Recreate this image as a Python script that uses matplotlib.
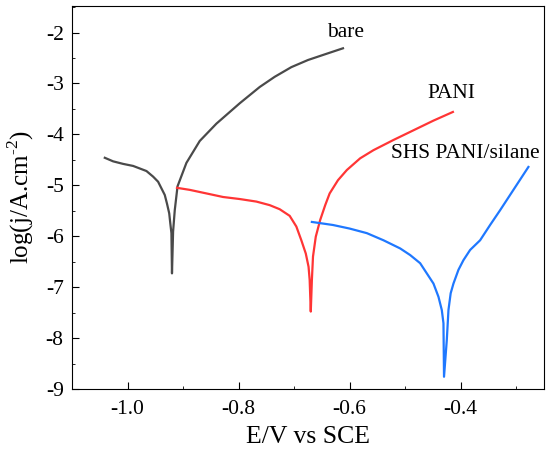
import matplotlib
matplotlib.use('Agg')
import matplotlib.pyplot as plt
from matplotlib.ticker import MultipleLocator

# polarization curves (E in V vs SCE, log j)
bare_E = [-1.041, -1.026, -1.008, -0.990, -0.978, -0.966, -0.954, -0.945, -0.939,
          -0.933, -0.929, -0.925, -0.923, -0.921, -0.920,
          -0.918, -0.915, -0.910, -0.894, -0.870, -0.840, -0.798, -0.762,
          -0.735, -0.705, -0.675, -0.645, -0.612]
bare_logj = [-4.46, -4.53, -4.58, -4.62, -4.67, -4.72, -4.83, -4.93, -5.06,
             -5.19, -5.36, -5.55, -5.75, -5.94, -6.73,
             -5.91, -5.49, -5.02, -4.56, -4.13, -3.79, -3.39, -3.07,
             -2.87, -2.68, -2.54, -2.43, -2.31]

pani_E = [-0.911, -0.888, -0.858, -0.828, -0.798, -0.768, -0.744, -0.726, -0.708,
          -0.696, -0.687, -0.679, -0.674, -0.672, -0.670,
          -0.668, -0.666, -0.661, -0.653, -0.644, -0.636, -0.621, -0.605,
          -0.581, -0.557, -0.521, -0.485, -0.449, -0.414]
pani_logj = [-5.05, -5.09, -5.16, -5.23, -5.27, -5.32, -5.39, -5.47, -5.60,
             -5.81, -6.08, -6.34, -6.60, -6.86, -7.48,
             -6.86, -6.40, -6.01, -5.68, -5.39, -5.16, -4.90, -4.70,
             -4.47, -4.31, -4.11, -3.92, -3.73, -3.56]

shs_E = [-0.668, -0.630, -0.600, -0.569, -0.539, -0.509, -0.491, -0.473, -0.461,
         -0.449, -0.440, -0.434, -0.431, -0.430,
         -0.425, -0.422, -0.418, -0.413, -0.404, -0.395, -0.383, -0.365,
         -0.347, -0.329, -0.305, -0.278]
shs_logj = [-5.72, -5.78, -5.85, -5.94, -6.08, -6.24, -6.37, -6.53, -6.73,
            -6.93, -7.19, -7.45, -7.71, -8.76,
            -8.04, -7.45, -7.12, -6.93, -6.66, -6.47, -6.27, -6.08,
            -5.78, -5.49, -5.09, -4.64]

plt.rcParams['font.family'] = ['Liberation Serif', 'DejaVu Serif']
plt.rcParams['mathtext.fontset'] = 'custom'
plt.rcParams['mathtext.rm'] = 'Liberation Serif'

fig = plt.figure(figsize=(5.5, 4.5), dpi=100)
ax = fig.add_axes([0.131, 0.1356, 0.858, 0.851])

ax.plot(bare_E, bare_logj, color='#4a4a4a', lw=1.6)
ax.plot(pani_E, pani_logj, color='#ff3535', lw=1.6)
ax.plot(shs_E, shs_logj, color='#1f78ff', lw=1.6)

ax.text(-0.607, -2.0, 'bare', fontsize=15.5, ha='center', va='center')
ax.text(-0.416, -3.19, 'PANI', fontsize=15.5, ha='center', va='center')
ax.text(-0.391, -4.37, 'SHS PANI/silane', fontsize=15.5, ha='center', va='center')

ax.set_xlim(-1.1, -0.25)
ax.set_ylim(-9, -1.48)
ax.xaxis.set_minor_locator(MultipleLocator(0.1))
ax.yaxis.set_minor_locator(MultipleLocator(0.5))
ax.set_xticks([-1.0, -0.8, -0.6, -0.4])
ax.set_xticklabels(['-1.0', '-0.8', '-0.6', '-0.4'])
ax.set_yticks(range(-9, -1))
ax.set_yticklabels([str(v) for v in range(-9, -1)])
ax.tick_params(which='both', direction='in', top=False, right=False,
               labelsize=15.5, pad=6)
ax.tick_params(axis='x', which='both', pad=8)
ax.tick_params(which='major', length=5)
ax.tick_params(which='minor', length=2.5)

ax.set_xlabel('E/V vs SCE', fontsize=18.5, labelpad=5)
ax.set_ylabel(r'log(j/A.cm$^{\text{-}2}$)', fontsize=18, labelpad=7)

fig.savefig('out.png', dpi=100)
